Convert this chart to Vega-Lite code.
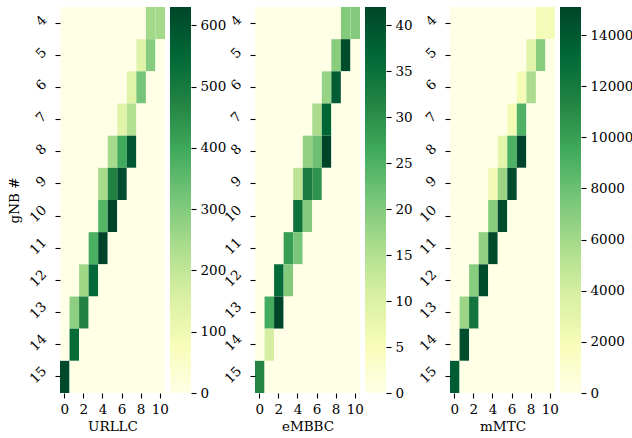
{
  "$schema": "https://vega.github.io/schema/vega-lite/v6.json",
  "padding": {"left": 7, "top": 7, "right": 0, "bottom": 0},
  "datasets": {
    "grid": [
      {"g":4,"c":0,"u":0,"e":0,"m":0},{"g":4,"c":1,"u":0,"e":0,"m":0},{"g":4,"c":2,"u":0,"e":0,"m":0},{"g":4,"c":3,"u":0,"e":0,"m":0},{"g":4,"c":4,"u":0,"e":0,"m":0},{"g":4,"c":5,"u":0,"e":0,"m":0},{"g":4,"c":6,"u":0,"e":0,"m":0},{"g":4,"c":7,"u":0,"e":0,"m":0},{"g":4,"c":8,"u":0,"e":0,"m":0},{"g":4,"c":9,"u":250,"e":20,"m":2000},{"g":4,"c":10,"u":250,"e":20,"m":2000},
      {"g":5,"c":0,"u":0,"e":0,"m":0},{"g":5,"c":1,"u":0,"e":0,"m":0},{"g":5,"c":2,"u":0,"e":0,"m":0},{"g":5,"c":3,"u":0,"e":0,"m":0},{"g":5,"c":4,"u":0,"e":0,"m":0},{"g":5,"c":5,"u":0,"e":0,"m":0},{"g":5,"c":6,"u":0,"e":0,"m":0},{"g":5,"c":7,"u":0,"e":0,"m":0},{"g":5,"c":8,"u":140,"e":19.5,"m":3300},{"g":5,"c":9,"u":295,"e":41,"m":7000},{"g":5,"c":10,"u":0,"e":0,"m":0},
      {"g":6,"c":0,"u":0,"e":0,"m":0},{"g":6,"c":1,"u":0,"e":0,"m":0},{"g":6,"c":2,"u":0,"e":0,"m":0},{"g":6,"c":3,"u":0,"e":0,"m":0},{"g":6,"c":4,"u":0,"e":0,"m":0},{"g":6,"c":5,"u":0,"e":0,"m":0},{"g":6,"c":6,"u":0,"e":0,"m":0},{"g":6,"c":7,"u":140,"e":18,"m":2100},{"g":6,"c":8,"u":320,"e":38.5,"m":5700},{"g":6,"c":9,"u":0,"e":0,"m":0},{"g":6,"c":10,"u":0,"e":0,"m":0},
      {"g":7,"c":0,"u":0,"e":0,"m":0},{"g":7,"c":1,"u":0,"e":0,"m":0},{"g":7,"c":2,"u":0,"e":0,"m":0},{"g":7,"c":3,"u":0,"e":0,"m":0},{"g":7,"c":4,"u":0,"e":0,"m":0},{"g":7,"c":5,"u":0,"e":0,"m":0},{"g":7,"c":6,"u":140,"e":16,"m":2100},{"g":7,"c":7,"u":225,"e":37,"m":9000},{"g":7,"c":8,"u":0,"e":0,"m":0},{"g":7,"c":9,"u":0,"e":0,"m":0},{"g":7,"c":10,"u":0,"e":0,"m":0},
      {"g":8,"c":0,"u":0,"e":0,"m":0},{"g":8,"c":1,"u":0,"e":0,"m":0},{"g":8,"c":2,"u":0,"e":0,"m":0},{"g":8,"c":3,"u":0,"e":0,"m":0},{"g":8,"c":4,"u":0,"e":0,"m":0},{"g":8,"c":5,"u":245,"e":18.5,"m":3000},{"g":8,"c":6,"u":395,"e":22,"m":9000},{"g":8,"c":7,"u":590,"e":42,"m":15100},{"g":8,"c":8,"u":0,"e":0,"m":0},{"g":8,"c":9,"u":0,"e":0,"m":0},{"g":8,"c":10,"u":0,"e":0,"m":0},
      {"g":9,"c":0,"u":0,"e":0,"m":0},{"g":9,"c":1,"u":0,"e":0,"m":0},{"g":9,"c":2,"u":0,"e":0,"m":0},{"g":9,"c":3,"u":0,"e":0,"m":0},{"g":9,"c":4,"u":245,"e":14,"m":2200},{"g":9,"c":5,"u":480,"e":33,"m":6300},{"g":9,"c":6,"u":610,"e":29.5,"m":14700},{"g":9,"c":7,"u":0,"e":0,"m":0},{"g":9,"c":8,"u":0,"e":0,"m":0},{"g":9,"c":9,"u":0,"e":0,"m":0},{"g":9,"c":10,"u":0,"e":0,"m":0},
      {"g":10,"c":0,"u":0,"e":0,"m":0},{"g":10,"c":1,"u":0,"e":0,"m":0},{"g":10,"c":2,"u":0,"e":0,"m":0},{"g":10,"c":3,"u":0,"e":0,"m":0},{"g":10,"c":4,"u":365,"e":35,"m":7000},{"g":10,"c":5,"u":630,"e":20,"m":14700},{"g":10,"c":6,"u":0,"e":0,"m":0},{"g":10,"c":7,"u":0,"e":0,"m":0},{"g":10,"c":8,"u":0,"e":0,"m":0},{"g":10,"c":9,"u":0,"e":0,"m":0},{"g":10,"c":10,"u":0,"e":0,"m":0},
      {"g":11,"c":0,"u":0,"e":0,"m":0},{"g":11,"c":1,"u":0,"e":0,"m":0},{"g":11,"c":2,"u":0,"e":0,"m":0},{"g":11,"c":3,"u":380,"e":28,"m":6700},{"g":11,"c":4,"u":630,"e":21,"m":14800},{"g":11,"c":5,"u":0,"e":0,"m":0},{"g":11,"c":6,"u":0,"e":0,"m":0},{"g":11,"c":7,"u":0,"e":0,"m":0},{"g":11,"c":8,"u":0,"e":0,"m":0},{"g":11,"c":9,"u":0,"e":0,"m":0},{"g":11,"c":10,"u":0,"e":0,"m":0},
      {"g":12,"c":0,"u":0,"e":0,"m":0},{"g":12,"c":1,"u":0,"e":0,"m":0},{"g":12,"c":2,"u":255,"e":36,"m":7000},{"g":12,"c":3,"u":550,"e":20,"m":14700},{"g":12,"c":4,"u":0,"e":0,"m":0},{"g":12,"c":5,"u":0,"e":0,"m":0},{"g":12,"c":6,"u":0,"e":0,"m":0},{"g":12,"c":7,"u":0,"e":0,"m":0},{"g":12,"c":8,"u":0,"e":0,"m":0},{"g":12,"c":9,"u":0,"e":0,"m":0},{"g":12,"c":10,"u":0,"e":0,"m":0},
      {"g":13,"c":0,"u":0,"e":0,"m":0},{"g":13,"c":1,"u":285,"e":26,"m":6300},{"g":13,"c":2,"u":480,"e":42,"m":12300},{"g":13,"c":3,"u":0,"e":0,"m":0},{"g":13,"c":4,"u":0,"e":0,"m":0},{"g":13,"c":5,"u":0,"e":0,"m":0},{"g":13,"c":6,"u":0,"e":0,"m":0},{"g":13,"c":7,"u":0,"e":0,"m":0},{"g":13,"c":8,"u":0,"e":0,"m":0},{"g":13,"c":9,"u":0,"e":0,"m":0},{"g":13,"c":10,"u":0,"e":0,"m":0},
      {"g":14,"c":0,"u":0,"e":0,"m":0},{"g":14,"c":1,"u":545,"e":11,"m":14600},{"g":14,"c":2,"u":0,"e":0,"m":0},{"g":14,"c":3,"u":0,"e":0,"m":0},{"g":14,"c":4,"u":0,"e":0,"m":0},{"g":14,"c":5,"u":0,"e":0,"m":0},{"g":14,"c":6,"u":0,"e":0,"m":0},{"g":14,"c":7,"u":0,"e":0,"m":0},{"g":14,"c":8,"u":0,"e":0,"m":0},{"g":14,"c":9,"u":0,"e":0,"m":0},{"g":14,"c":10,"u":0,"e":0,"m":0},
      {"g":15,"c":0,"u":620,"e":31.5,"m":13800},{"g":15,"c":1,"u":0,"e":0,"m":0},{"g":15,"c":2,"u":0,"e":0,"m":0},{"g":15,"c":3,"u":0,"e":0,"m":0},{"g":15,"c":4,"u":0,"e":0,"m":0},{"g":15,"c":5,"u":0,"e":0,"m":0},{"g":15,"c":6,"u":0,"e":0,"m":0},{"g":15,"c":7,"u":0,"e":0,"m":0},{"g":15,"c":8,"u":0,"e":0,"m":0},{"g":15,"c":9,"u":0,"e":0,"m":0},{"g":15,"c":10,"u":0,"e":0,"m":0}
    ],
    "none": []
  },
  "data": {"name": "grid"},
  "bounds": "flush",
  "spacing": 5,
  "resolve": {"scale": {"x": "independent", "y": "independent", "color": "independent"}, "axis": {"x": "independent", "y": "independent"}},
  "hconcat": [
    {
      "width": 105, "height": 386,
      "mark": {"type": "rect", "strokeWidth": 0},
      "encoding": {
        "x": {"field": "c", "type": "ordinal", "scale": {"paddingInner": 0, "paddingOuter": 0}, "axis": {"values": [0,2,4,6,8,10], "labelAngle": 0, "title": "URLLC"}},
        "y": {"field": "g", "type": "ordinal", "scale": {"paddingInner": 0, "paddingOuter": 0}, "axis": {"title": "gNB #", "labelOffset": {"condition": {"test": "datum.value >= 10", "value": -3}, "value": 0}}},
        "color": {"field": "u", "type": "quantitative", "legend": null,
          "scale": {"domain": [0,78.75,157.5,236.25,315,393.75,472.5,551.25,630], "range": ["#ffffe5","#f7fcb9","#d9f0a3","#addd8e","#78c679","#41ab5d","#238443","#006837","#004529"]}}
      }
    },
    {
      "width": 21, "height": 386,
      "transform": [{"aggregate": [{"op": "min", "field": "u", "as": "ulo"}, {"op": "max", "field": "u", "as": "uhi"}]}],
      "mark": {"type": "rect", "strokeWidth": 0, "color": {"gradient": "linear", "x1": 0, "y1": 1, "x2": 0, "y2": 0, "stops": [{"offset": 0, "color": "#ffffe5"}, {"offset": 0.125, "color": "#f7fcb9"}, {"offset": 0.25, "color": "#d9f0a3"}, {"offset": 0.375, "color": "#addd8e"}, {"offset": 0.5, "color": "#78c679"}, {"offset": 0.625, "color": "#41ab5d"}, {"offset": 0.75, "color": "#238443"}, {"offset": 0.875, "color": "#006837"}, {"offset": 1, "color": "#004529"}]}},
      "encoding": {
        "y": {"field": "ulo", "type": "quantitative", "scale": {"nice": false, "zero": true}, "axis": {"orient": "right", "title": null, "values": [0,100,200,300,400,500,600], "format": "d", "labelAngle": 0, "labelAlign": "left", "labelBaseline": "middle", "labelOffset": 0, "labelPadding": 4, "labelOverlap": false}},
        "y2": {"field": "uhi"}
      }
    },
    {"width": 54, "height": 386, "data": {"name": "none"}, "mark": "rect", "encoding": {}},
    {
      "width": 105, "height": 386,
      "mark": {"type": "rect", "strokeWidth": 0},
      "encoding": {
        "x": {"field": "c", "type": "ordinal", "scale": {"paddingInner": 0, "paddingOuter": 0}, "axis": {"values": [0,2,4,6,8,10], "labelAngle": 0, "title": "eMBBC"}},
        "y": {"field": "g", "type": "ordinal", "scale": {"paddingInner": 0, "paddingOuter": 0}, "axis": {"title": null, "labelOffset": {"condition": {"test": "datum.value >= 10", "value": -3}, "value": 0}}},
        "color": {"field": "e", "type": "quantitative", "legend": null,
          "scale": {"domain": [0,5.25,10.5,15.75,21,26.25,31.5,36.75,42], "range": ["#ffffe5","#f7fcb9","#d9f0a3","#addd8e","#78c679","#41ab5d","#238443","#006837","#004529"]}}
      }
    },
    {
      "width": 21, "height": 386,
      "transform": [{"aggregate": [{"op": "min", "field": "e", "as": "elo"}, {"op": "max", "field": "e", "as": "ehi"}]}],
      "mark": {"type": "rect", "strokeWidth": 0, "color": {"gradient": "linear", "x1": 0, "y1": 1, "x2": 0, "y2": 0, "stops": [{"offset": 0, "color": "#ffffe5"}, {"offset": 0.125, "color": "#f7fcb9"}, {"offset": 0.25, "color": "#d9f0a3"}, {"offset": 0.375, "color": "#addd8e"}, {"offset": 0.5, "color": "#78c679"}, {"offset": 0.625, "color": "#41ab5d"}, {"offset": 0.75, "color": "#238443"}, {"offset": 0.875, "color": "#006837"}, {"offset": 1, "color": "#004529"}]}},
      "encoding": {
        "y": {"field": "elo", "type": "quantitative", "scale": {"nice": false, "zero": true}, "axis": {"orient": "right", "title": null, "values": [0,5,10,15,20,25,30,35,40], "format": "d", "labelAngle": 0, "labelAlign": "left", "labelBaseline": "middle", "labelOffset": 0, "labelPadding": 4, "labelOverlap": false}},
        "y2": {"field": "ehi"}
      }
    },
    {"width": 54, "height": 386, "data": {"name": "none"}, "mark": "rect", "encoding": {}},
    {
      "width": 105, "height": 386,
      "mark": {"type": "rect", "strokeWidth": 0},
      "encoding": {
        "x": {"field": "c", "type": "ordinal", "scale": {"paddingInner": 0, "paddingOuter": 0}, "axis": {"values": [0,2,4,6,8,10], "labelAngle": 0, "title": "mMTC"}},
        "y": {"field": "g", "type": "ordinal", "scale": {"paddingInner": 0, "paddingOuter": 0}, "axis": {"title": null, "labelOffset": {"condition": {"test": "datum.value >= 10", "value": -3}, "value": 0}}},
        "color": {"field": "m", "type": "quantitative", "legend": null,
          "scale": {"domain": [0,1887.5,3775,5662.5,7550,9437.5,11325,13212.5,15100], "range": ["#ffffe5","#f7fcb9","#d9f0a3","#addd8e","#78c679","#41ab5d","#238443","#006837","#004529"]}}
      }
    },
    {
      "width": 21, "height": 386,
      "transform": [{"aggregate": [{"op": "min", "field": "m", "as": "mlo"}, {"op": "max", "field": "m", "as": "mhi"}]}],
      "mark": {"type": "rect", "strokeWidth": 0, "color": {"gradient": "linear", "x1": 0, "y1": 1, "x2": 0, "y2": 0, "stops": [{"offset": 0, "color": "#ffffe5"}, {"offset": 0.125, "color": "#f7fcb9"}, {"offset": 0.25, "color": "#d9f0a3"}, {"offset": 0.375, "color": "#addd8e"}, {"offset": 0.5, "color": "#78c679"}, {"offset": 0.625, "color": "#41ab5d"}, {"offset": 0.75, "color": "#238443"}, {"offset": 0.875, "color": "#006837"}, {"offset": 1, "color": "#004529"}]}},
      "encoding": {
        "y": {"field": "mlo", "type": "quantitative", "scale": {"nice": false, "zero": true}, "axis": {"orient": "right", "title": null, "values": [0,2000,4000,6000,8000,10000,12000,14000], "format": "d", "labelAngle": 0, "labelAlign": "left", "labelBaseline": "middle", "labelOffset": 0, "labelPadding": 4, "labelOverlap": false}},
        "y2": {"field": "mhi"}
      }
    }
  ],
  "config": {
    "font": "DejaVu Serif",
    "view": {"stroke": null},
    "axis": {
      "domain": false, "grid": false,
      "tickColor": "#000", "tickSize": 5, "tickWidth": 1.1,
      "labelFont": "DejaVu Serif", "labelFontSize": 13.5, "labelColor": "#000", "labelPadding": 4,
      "titleFont": "DejaVu Serif", "titleFontSize": 13.5, "titleColor": "#000", "titleFontWeight": "normal", "titlePadding": 4
    },
    "axisY": {"labelAngle": -45, "labelAlign": "right", "labelBaseline": "bottom", "labelPadding": 6, "titlePadding": 5}
  }
}
